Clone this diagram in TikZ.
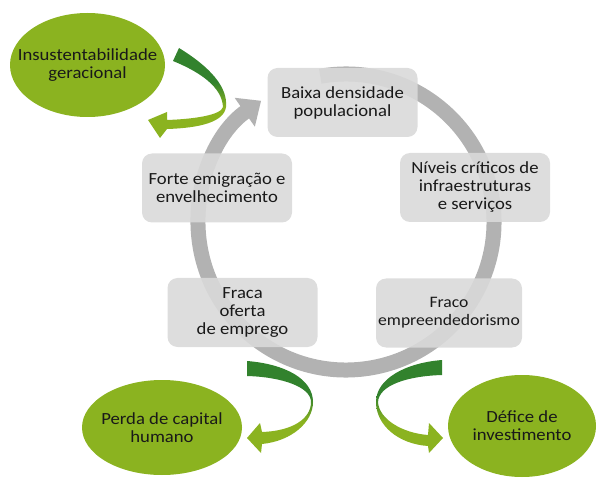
\documentclass[tikz,border=0pt]{standalone}
\usepackage{fontspec}
\setmainfont{Carlito}[FakeStretch=1.1]
\usetikzlibrary{shapes.geometric,arrows.meta}
\definecolor{ringgray}{RGB}{178,178,178}
\definecolor{boxgray}{RGB}{217,217,217}
\definecolor{leafgreen}{RGB}{139,179,32}
\definecolor{darkleaf}{RGB}{50,130,45}
\pgfdeclareverticalshading{twist}{100bp}{color(0bp)=(leafgreen); color(42bp)=(leafgreen); color(56bp)=(darkleaf); color(100bp)=(darkleaf)}
\tikzset{
  every node/.style={font=\fontsize{17}{18}\selectfont, text=black!90},
  cyclebox/.style={rectangle, rounded corners=10pt, fill=boxgray, fill opacity=0.9, text opacity=1, inner xsep=2pt, minimum width=150pt, minimum height=69pt, align=center},
  effect/.style={ellipse, fill=leafgreen, align=center, inner sep=-15pt},
  twistarrow/.style={shading=twist},
}

\begin{document}
\begin{tikzpicture}[x=1pt,y=1pt]
    \useasboundingbox (0,0) rectangle (597,477);
    % cycle ring
    \coordinate (hub) at (346,255);
    \draw[ringgray, line width=15pt, -{Triangle[width=34pt,length=20pt]}] ([shift={(100:148)}]hub) arc[start angle=100, end angle=-235, radius=148];

    \node[cyclebox] (baixa) at (342.5,374.5) {Baixa densidade\\populacional};
    \node[cyclebox] (niveis) at (475,289.5) {Níveis críticos de\\infraestruturas\\e serviços};
    \node[cyclebox, minimum width=146pt, font=\fontsize{16}{18}\selectfont] (empreend) at (449,164) {Fraco\\empreendedorismo};
    \node[cyclebox] (emprego) at (242.5,164.5) {Fraca\\oferta\\de emprego};
    \node[cyclebox] (emigra) at (217,289) {Forte emigração e\\envelhecimento};

    % consequences
    \node[effect, minimum width=155pt, minimum height=104pt] (insust) at (87.5,412) {Insustentabilidade\\geracional};
    \node[effect, minimum width=160pt, minimum height=95pt] (perda) at (162,49.5) {Perda de capital\\humano};
    \node[effect, minimum width=148pt, minimum height=102pt] (defice) at (522,51) {Défice de\\investimento};

    % twisted arrows
    \shade[twistarrow] (179,429) .. controls (210,410) and (228,390) .. (226,370)
      .. controls (224,355) and (200,349) .. (167,348) -- (160,339) -- (148,357) -- (167,365) -- (167,357)
      .. controls (195,358) and (221,362) .. (223,370)
      .. controls (222,390) and (200,405) .. (173,416) -- cycle;
    \shade[twistarrow] (247,116) .. controls (285,113) and (313,98) .. (313,75)
      .. controls (313,55) and (292,36) .. (262,33) -- (261,24) -- (247,39) -- (260,54) -- (262,45)
      .. controls (292,46) and (311,58) .. (311,75)
      .. controls (311,90) and (282,100) .. (247,101) -- cycle;
    \shade[twistarrow] (442,117) .. controls (405,114) and (376,98) .. (376,75)
      .. controls (376,52) and (398,33) .. (428,31) -- (429,24) -- (443,39) -- (429,54) -- (428,42)
      .. controls (402,44) and (379,58) .. (378,75)
      .. controls (379,92) and (408,101) .. (442,102) -- cycle;
\end{tikzpicture}
\end{document}
